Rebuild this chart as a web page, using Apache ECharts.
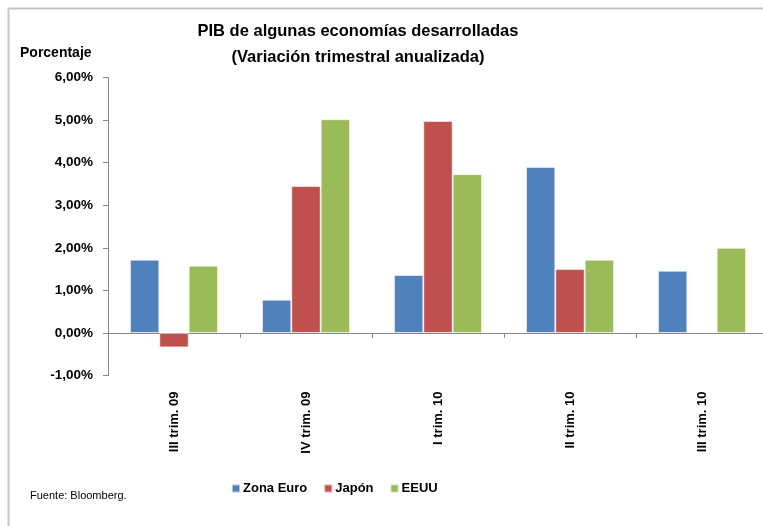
<!DOCTYPE html>
<html>
<head>
<meta charset="utf-8">
<script src="https://cdn.jsdelivr.net/npm/echarts@6/dist/echarts.min.js"></script>
<style>
html,body{margin:0;padding:0;background:#fff;}
#main{width:763px;height:526px;}
</style>
</head>
<body>
<div id="main"></div>
<script>
var categories = ['III trim. 09', 'IV trim. 09', 'I trim. 10', 'II trim. 10', 'III trim. 10'];
var zonaEuro = [1.72, 0.78, 1.36, 3.90, 1.46];
var japon = [-0.34, 3.45, 4.98, 1.50, null];
var eeuu = [1.58, 5.02, 3.73, 1.72, 2.00];
var seriesNames = ['Zona Euro', 'Japón', 'EEUU'];

var FONT = "'Liberation Sans', Arial, sans-serif";
var chart = echarts.init(document.getElementById('main'), null, {renderer: 'canvas'});
var barBorder = {borderColor: 'rgba(255,255,255,0.55)', borderWidth: 1};
var option = {
  animation: false,
  backgroundColor: '#ffffff',
  color: ['#4F81BD', '#C0504D', '#9BBB59'],
  grid: {left: 108, top: 77.5, height: 298, width: 660, containLabel: false, outerBoundsMode: 'none'},
  legend: {
    data: seriesNames,
    left: 226, top: 477,
    itemWidth: 8, itemHeight: 8, itemGap: 16,
    icon: 'rect',
    textStyle: {fontFamily: FONT, fontWeight: 'bold', fontSize: 13, color: '#000', padding: [0, 0, 0, -2]}
  },
  xAxis: [{
    type: 'category', data: categories, position: 'bottom',
    axisLine: {onZero: true, lineStyle: {color: '#868686', width: 1}},
    axisTick: {show: true, length: 5, lineStyle: {color: '#868686'}},
    axisLabel: {show: false}
  }, {
    type: 'category', data: categories, position: 'bottom',
    axisLine: {show: false, onZero: false},
    axisTick: {show: false},
    axisLabel: {show: true, rotate: 90, margin: 16, interval: 0,
      fontFamily: FONT, fontWeight: 'bold', fontSize: 13, color: '#000'}
  }],
  yAxis: {
    type: 'value', min: -1, max: 6, interval: 1,
    splitLine: {show: false},
    axisLine: {show: true, lineStyle: {color: '#868686', width: 1}},
    axisTick: {show: true, length: 5, inside: false, lineStyle: {color: '#868686'}},
    axisLabel: {margin: 15, fontFamily: FONT, fontWeight: 'bold', fontSize: 13.5, color: '#000',
      formatter: function (v) { return v.toFixed(2).replace('.', ',') + '%'; }}
  },
  series: [
    {name: seriesNames[0], type: 'bar', data: zonaEuro, barGap: '0%', barCategoryGap: '33.3%', itemStyle: barBorder},
    {name: seriesNames[1], type: 'bar', data: japon, barGap: '0%', barCategoryGap: '33.3%', itemStyle: barBorder},
    {name: seriesNames[2], type: 'bar', data: eeuu, barGap: '0%', barCategoryGap: '33.3%', itemStyle: barBorder}
  ],
  graphic: [
    {type: 'line', shape: {x1: 8.5, y1: 8.5, x2: 763, y2: 8.5}, style: {stroke: '#c4c4c4', lineWidth: 2}, silent: true},
    {type: 'line', shape: {x1: 8.5, y1: 8.5, x2: 8.5, y2: 526}, style: {stroke: '#c4c4c4', lineWidth: 2}, silent: true},
    {type: 'text', x: 358, y: 23, style: {text: 'PIB de algunas economías desarrolladas', fontFamily: FONT, fontWeight: 'bold', fontSize: 16.5, fill: '#000', align: 'center'}},
    {type: 'text', x: 358, y: 49, style: {text: '(Variación trimestral anualizada)', fontFamily: FONT, fontWeight: 'bold', fontSize: 16.5, fill: '#000', align: 'center'}},
    {type: 'text', x: 20, y: 46, style: {text: 'Porcentaje', fontFamily: FONT, fontWeight: 'bold', fontSize: 14, fill: '#000'}},
    {type: 'text', x: 30, y: 490, style: {text: 'Fuente: Bloomberg.', fontFamily: FONT, fontSize: 11, fill: '#000'}}
  ]
};
chart.setOption(option);
</script>
</body>
</html>
